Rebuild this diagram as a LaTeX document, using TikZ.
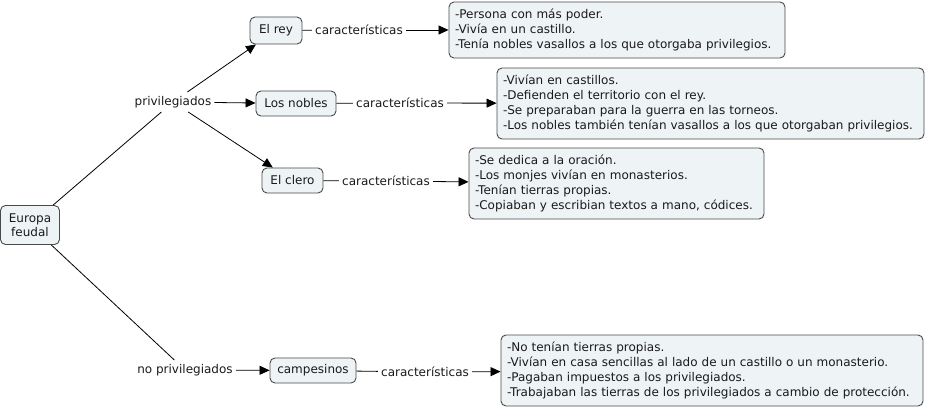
\documentclass[tikz,border=0pt]{standalone}
\usepackage{fontspec}
\setmainfont{DejaVu Sans}
\usetikzlibrary{arrows.meta}
\definecolor{boxfill}{HTML}{EEF3F5}
\definecolor{boxline}{HTML}{4A4A4A}
\definecolor{txt}{HTML}{1A1A1A}
\begin{document}
\begin{tikzpicture}[x=1pt,y=-1pt,
  every node/.style={font=\fontsize{12}{15}\selectfont, text=txt},
  concept/.style={draw=boxline, fill=boxfill, rounded corners=5pt, line width=0.9pt, inner sep=0pt, align=center},
  infobox/.style={draw=boxline, fill=boxfill, rounded corners=5pt, line width=0.9pt, inner xsep=6pt, inner ysep=0pt, align=left},
  linklabel/.style={inner xsep=3pt, inner ysep=4pt},
  conn/.style={draw=black, line width=0.8pt},
  arr/.style={conn, -{Triangle[length=10pt,width=9pt]}}
]
\useasboundingbox (0,0) rectangle (926,409);

\node[concept, minimum width=59pt, minimum height=39pt] (eu) at (30,225) {Europa\\[-1pt]feudal};
\node[linklabel] (priv) at (173,102) {privilegiados};
\node[linklabel] (np) at (185,370) {no privilegiados};

\node[concept, minimum width=52pt, minimum height=27pt] (rey) at (276,30.5) {El rey};
\node[concept, minimum width=80pt, minimum height=25pt] (nob) at (296,103.5) {Los nobles};
\node[concept, minimum width=61pt, minimum height=25pt] (cle) at (292.5,180.5) {El clero};
\node[concept, minimum width=86pt, minimum height=25pt] (cam) at (313,370.5) {campesinos};

\node[linklabel] (c1) at (359,30) {características};
\node[linklabel] (c2) at (400,103) {características};
\node[linklabel] (c3) at (386,181) {características};
\node[linklabel] (c4) at (425,372) {características};

\node[infobox, text width=324pt, minimum height=56pt] (b1) at (617,30) {-Persona con más poder.\\-Vivía en un castillo.\\-Tenía nobles vasallos a los que otorgaba privilegios.};
\node[infobox, text width=415pt, minimum height=71pt] (b2) at (710.5,103.5) {-Vivían en castillos.\\-Defienden el territorio con el rey.\\-Se preparaban para la guerra en las torneos.\\-Los nobles también tenían vasallos a los que otorgaban privilegios.};
\node[infobox, text width=283pt, minimum height=71pt] (b3) at (616.5,183.5) {-Se dedica a la oración.\\-Los monjes vivían en monasterios.\\-Tenían tierras propias.\\-Copiaban y escribian textos a mano, códices.};
\node[infobox, text width=410pt, minimum height=71pt] (b4) at (712,370.5) {-No tenían tierras propias.\\-Vivían en casa sencillas al lado de un castillo o un monasterio.\\-Pagaban impuestos a los privilegiados.\\-Trabajaban las tierras de los privilegiados a cambio de protección.};

\draw[conn] (eu) -- (priv);
\draw[conn] (eu) -- (np);
\draw[arr] (priv) -- (rey);
\draw[arr] (priv) -- (nob);
\draw[arr] (priv) -- (cle);
\draw[arr] (np) -- (cam);

\draw[conn] (rey) -- (c1);
\draw[conn] (nob) -- (c2);
\draw[conn] (cle) -- (c3);
\draw[conn] (cam) -- (c4);
\draw[arr] (c1) -- (b1);
\draw[arr] (c2) -- (b2);
\draw[arr] (c3) -- (b3);
\draw[arr] (c4) -- (b4);
\end{tikzpicture}
\end{document}
